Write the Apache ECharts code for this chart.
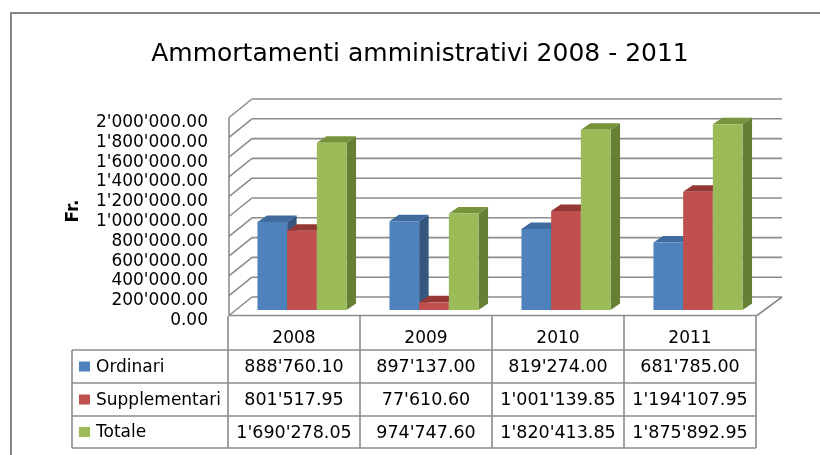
<!DOCTYPE html>
<html>
<head>
<meta charset="utf-8">
<title>Ammortamenti amministrativi 2008 - 2011</title>
<script src="https://cdn.jsdelivr.net/npm/echarts@6/dist/echarts.min.js"></script>
<style>
    html, body { margin: 0; padding: 0; background: #fff; }
    #chart { width: 820px; height: 455px; }
</style>
</head>
<body>
<div id="chart"></div>
<script>
var years = ["2008", "2009", "2010", "2011"];
var seriesNames = ["Ordinari", "Supplementari", "Totale"];
var ordinari = [888760.10, 897137.00, 819274.00, 681785.00];
var supplementari = [801517.95, 77610.60, 1001139.85, 1194107.95];
var totale = [1690278.05, 974747.60, 1820413.85, 1875892.95];
var yTicks = [0, 200000, 400000, 600000, 800000, 1000000, 1200000, 1400000, 1600000, 1800000, 2000000];

var FONT = "DejaVu Sans";
var gridColor = "#8c8c8c";
var barColors = [
    { front: "#4f81bd", top: "#3f6b9f", side: "#34567f" },
    { front: "#c0504d", top: "#953735", side: "#8a3533" },
    { front: "#9bbb59", top: "#77933c", side: "#667f35" }
];
// 3d offsets relative to the bar plane
var frontOff = [-7, 5.5];
var backOff = [16, -13];
var barDepth = [9.5, 6.5];

function fmt(v) {
    var p = v.toFixed(2).split(".");
    return p[0].replace(/\B(?=(\d{3})+(?!\d))/g, "'") + "." + p[1];
}

function line(x1, y1, x2, y2) {
    return {
        type: "line",
        shape: { x1: x1, y1: y1, x2: x2, y2: y2 },
        style: { stroke: gridColor, lineWidth: 1.6 }
    };
}

// back wall gridlines, side wall diagonals and floor
function renderWalls(params, api) {
    var cs = params.coordSys;
    var left = cs.x, right = cs.x + cs.width;
    var y = api.coord([0, api.value(1)])[1];
    var children = [
        line(left + backOff[0], y + backOff[1], right + backOff[0] + 2, y + backOff[1]),
        line(left + frontOff[0], y + frontOff[1], left + backOff[0], y + backOff[1])
    ];
    if (params.dataIndex === 0) {
        var yTop = api.coord([0, yTicks[yTicks.length - 1]])[1];
        children.push(line(left + frontOff[0], y + frontOff[1], left + frontOff[0], yTop + frontOff[1]));
        children.push(line(right + backOff[0] + 2, y + backOff[1], right + frontOff[0], y + frontOff[1]));
        children.push(line(left + frontOff[0], y + frontOff[1], right + frontOff[0], y + frontOff[1]));
    }
    return { type: "group", children: children };
}

function renderBar(params, api) {
    var si = params.seriesIndex - 1;
    var col = barColors[si];
    var base = api.coord([api.value(0), 0]);
    var top = api.coord([api.value(0), api.value(1)]);
    var band = api.size([1, 0])[0];
    var w = band * 0.225;
    var x0 = base[0] - 1.5 * w + si * w;
    var x1 = x0 + w;
    var yt = top[1], yb = base[1];
    var dx = barDepth[0], dy = barDepth[1];
    return {
        type: "group",
        children: [
            {
                type: "polygon",
                shape: { points: [[x1, yt], [x1 + dx, yt - dy], [x1 + dx, yb - dy], [x1, yb]] },
                style: { fill: col.side }
            },
            {
                type: "polygon",
                shape: { points: [[x0, yt], [x1, yt], [x1 + dx, yt - dy], [x0 + dx, yt - dy]] },
                style: { fill: col.top }
            },
            {
                type: "rect",
                shape: { x: x0, y: yt, width: w, height: yb - yt },
                style: { fill: col.front }
            }
        ]
    };
}

// data table under the plot
function buildTable() {
    var tLeft = 72, colX = 228, colW = 132;
    var rows = [316, 350, 383, 416, 448];
    var right = colX + colW * years.length;
    var values = [ordinari, supplementari, totale];
    var els = [];
    for (var k = 0; k <= years.length; k++) {
        els.push(line(colX + k * colW, rows[0], colX + k * colW, rows[4]));
    }
    els.push(line(tLeft, rows[1], tLeft, rows[4]));
    for (var r = 1; r < rows.length; r++) {
        els.push(line(tLeft, rows[r], right, rows[r]));
    }
    years.forEach(function (yr, i) {
        els.push({
            type: "text",
            style: {
                x: colX + (i + 0.5) * colW, y: 338.5, text: yr,
                font: "17px " + FONT, fill: "#000", align: "center", verticalAlign: "middle"
            }
        });
    });
    seriesNames.forEach(function (name, s) {
        var cy = (rows[s + 1] + rows[s + 2]) / 2 + 1;
        els.push({
            type: "rect",
            shape: { x: 79, y: cy - 6, width: 11, height: 10 },
            style: { fill: barColors[s].front }
        });
        els.push({
            type: "text",
            style: {
                x: 96, y: cy, text: name,
                font: "17px " + FONT, fill: "#000", align: "left", verticalAlign: "middle"
            }
        });
        values[s].forEach(function (v, i) {
            els.push({
                type: "text",
                style: {
                    x: colX + (i + 0.5) * colW, y: cy, text: fmt(v),
                    font: "17.5px " + FONT, fill: "#000", align: "center", verticalAlign: "middle"
                }
            });
        });
    });
    return els;
}

var chart = echarts.init(document.getElementById("chart"));

var option = {
    backgroundColor: "#fff",
    animation: false,
    title: {
        text: "Ammortamenti amministrativi 2008 - 2011",
        left: 415,
        textAlign: "center",
        top: 37,
        textStyle: { fontFamily: FONT, fontSize: 25, fontWeight: "normal", color: "#000" }
    },
    grid: { left: 236, right: 56, top: 112, bottom: 145 },
    xAxis: {
        type: "category",
        data: years,
        show: false
    },
    yAxis: {
        type: "value",
        min: 0,
        max: 2000000,
        interval: 200000,
        name: "Fr.",
        nameLocation: "middle",
        nameRotate: 90,
        nameGap: 154,
        nameTextStyle: { fontFamily: FONT, fontSize: 17, fontWeight: "bold", color: "#000" },
        axisLine: { show: false },
        axisTick: { show: false },
        splitLine: { show: false },
        axisLabel: {
            formatter: fmt,
            margin: 28,
            verticalAlign: "top",
            padding: [2, 0, 0, 0],
            fontFamily: FONT,
            fontSize: 17,
            color: "#000"
        }
    },
    graphic: [
        {
            type: "rect",
            z: -10,
            shape: { x: 11, y: 13, width: 830, height: 470 },
            style: { fill: "none", stroke: "#868686", lineWidth: 2 }
        },
        { type: "group", children: buildTable() }
    ],
    series: [
        {
            type: "custom",
            name: "walls",
            renderItem: renderWalls,
            data: yTicks.map(function (v) { return [0, v]; }),
            silent: true,
            z: 1
        },
        {
            type: "custom", name: seriesNames[0], renderItem: renderBar, z: 2,
            data: ordinari.map(function (v, i) { return [i, v]; })
        },
        {
            type: "custom", name: seriesNames[1], renderItem: renderBar, z: 2,
            data: supplementari.map(function (v, i) { return [i, v]; })
        },
        {
            type: "custom", name: seriesNames[2], renderItem: renderBar, z: 2,
            data: totale.map(function (v, i) { return [i, v]; })
        }
    ]
};

chart.setOption(option);
</script>
</body>
</html>
